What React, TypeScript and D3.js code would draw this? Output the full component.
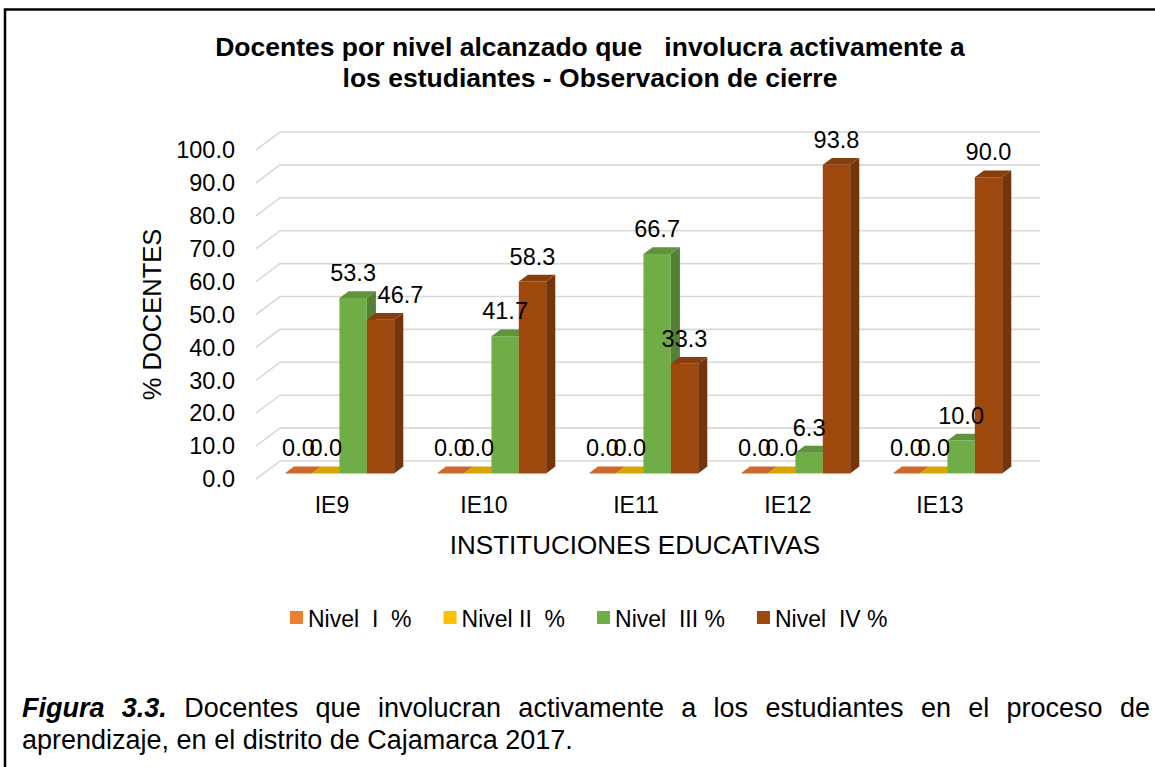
import React, { useEffect, useRef } from 'react';
import * as d3 from 'd3';

// chart data
const categories = ['IE9', 'IE10', 'IE11', 'IE12', 'IE13'];
const seriesNames = ['Nivel  I  %', 'Nivel II  %', 'Nivel  III %', 'Nivel  IV %'];
const nivelI = [0.0, 0.0, 0.0, 0.0, 0.0];
const nivelII = [0.0, 0.0, 0.0, 0.0, 0.0];
const nivelIII = [53.3, 41.7, 66.7, 6.3, 10.0];
const nivelIV = [46.7, 58.3, 33.3, 93.8, 90.0];
const yTicks = [0, 10, 20, 30, 40, 50, 60, 70, 80, 90, 100];
const seriesColors = ['#ED7D31', '#FFC000', '#70AD47', '#9E480E'];

const titleLines = [
    'Docentes por nivel alcanzado que   involucra activamente a',
    'los estudiantes - Observacion de cierre'
];
const yTitle = '% DOCENTES';
const xTitle = 'INSTITUCIONES EDUCATIVAS';
const captionLead = ['Figura', '3.3.'];
const captionLine1 = 'Docentes que involucran activamente a los estudiantes en el proceso de';
const captionLine2 = 'aprendizaje, en el distrito de Cajamarca 2017.';

const W = 1155;
const H = 767;
const FONT = "'Liberation Sans', Arial, sans-serif";

const drawChart = (svgEl: SVGSVGElement) => {
    const svg = d3.select(svgEl);
    svg.selectAll('*').remove();

    const series = [nivelI, nivelII, nivelIII, nivelIV];

    // front plane of the 3d box + depth vector
    const front = { left: 256, right: 1016, bottom: 479, top: 150 };
    const depth = { dx: 24, dy: -18 };
    const f0 = 0.31; // bar front face depth
    const f1 = 0.69; // bar back face depth

    const x0 = d3.scaleBand<string>()
        .domain(categories)
        .range([front.left, front.right])
        .paddingInner(0.28)
        .paddingOuter(0.14);
    const x1 = d3.scaleBand<number>()
        .domain(d3.range(series.length))
        .range([0, x0.bandwidth()]);
    const y = d3.scaleLinear().domain([0, 100]).range([front.bottom, front.top]);

    const P = (x: number, yy: number, f: number) => [x + f * depth.dx, yy + f * depth.dy];
    const poly = (pts: number[][]) => 'M' + pts.map(p => p.join(',')).join('L') + 'Z';

    // outer frame
    svg.append('rect')
        .attr('x', 5).attr('y', 9.5)
        .attr('width', 1200).attr('height', 800)
        .attr('fill', 'none')
        .attr('stroke', '#000')
        .attr('stroke-width', 2.5);

    // title
    svg.append('g')
        .attr('font-family', FONT)
        .attr('font-weight', 'bold')
        .attr('font-size', 26.5)
        .attr('text-anchor', 'middle')
        .selectAll('text')
        .data(titleLines)
        .join('text')
        .attr('xml:space', 'preserve')
        .attr('x', 590)
        .attr('y', (d, i) => 56 + i * 31)
        .text(d => d);

    // gridlines: short diagonal on the side wall, then along the back wall
    svg.append('g')
        .selectAll('path')
        .data(yTicks)
        .join('path')
        .attr('d', d => {
            const [bx, by] = P(front.left, y(d), 1);
            const [ex] = P(front.right, y(d), 1);
            return `M${front.left},${y(d)}L${bx},${by}H${ex}`;
        })
        .attr('fill', 'none')
        .attr('stroke', '#D9D9D9')
        .attr('stroke-width', 1.6);

    // y tick labels
    svg.append('g')
        .attr('font-family', FONT)
        .attr('font-size', 23.5)
        .attr('text-anchor', 'end')
        .selectAll('text')
        .data(yTicks)
        .join('text')
        .attr('x', front.left - 21)
        .attr('y', d => y(d))
        .attr('dy', '0.35em')
        .text(d => d.toFixed(1));

    // bars
    const bars = categories.flatMap((c, i) =>
        series.map((s, j) => ({ cat: c, j, value: s[i] }))
    );

    const barG = svg.append('g');
    bars.forEach(b => {
        const w = x1.bandwidth();
        const bx = (x0(b.cat) as number) + (x1(b.j) as number);
        const base = d3.color(seriesColors[b.j]) as d3.RGBColor;
        const yv = y(b.value);
        const y0 = y(0);
        const g = barG.append('g');

        if (b.value > 0) {
            g.append('path')
                .attr('d', poly([P(bx + w, yv, f0), P(bx + w, y0, f0), P(bx + w, y0, f1), P(bx + w, yv, f1)]))
                .attr('fill', base.darker(0.85).formatHex());
            g.append('path')
                .attr('d', poly([P(bx, yv, f0), P(bx + w, yv, f0), P(bx + w, y0, f0), P(bx, y0, f0)]))
                .attr('fill', base.formatHex());
        }
        g.append('path')
            .attr('d', poly([P(bx, yv, f0), P(bx + w, yv, f0), P(bx + w, yv, f1), P(bx, yv, f1)]))
            .attr('fill', base.darker(0.45).formatHex());
    });

    // data labels (Excel moved the IE9 Nivel IV label a bit to the right)
    const labelNudge = (b: { cat: string; j: number }) => (b.cat === 'IE9' && b.j === 3 ? 20 : 0);
    svg.append('g')
        .attr('font-family', FONT)
        .attr('font-size', 23.5)
        .attr('text-anchor', 'middle')
        .selectAll('text')
        .data(bars)
        .join('text')
        .attr('x', b => (x0(b.cat) as number) + (x1(b.j) as number) + x1.bandwidth() / 2 + f0 * depth.dx + labelNudge(b))
        .attr('y', b => y(b.value) + f0 * depth.dy - 17)
        .text(b => b.value.toFixed(1));

    // category labels
    svg.append('g')
        .attr('font-family', FONT)
        .attr('font-size', 23)
        .attr('text-anchor', 'middle')
        .selectAll('text')
        .data(categories)
        .join('text')
        .attr('x', d => (x0(d) as number) + x0.bandwidth() / 2)
        .attr('y', 513)
        .text(d => d);

    // axis titles
    svg.append('text')
        .attr('font-family', FONT)
        .attr('font-size', 26)
        .attr('text-anchor', 'middle')
        .attr('x', 635)
        .attr('y', 554)
        .text(xTitle);

    svg.append('text')
        .attr('font-family', FONT)
        .attr('font-size', 25.5)
        .attr('text-anchor', 'middle')
        .attr('transform', `translate(161,${(front.top + front.bottom) / 2}) rotate(-90)`)
        .text(yTitle);

    // legend
    const legend = svg.append('g')
        .attr('font-family', FONT)
        .attr('font-size', 23);
    let lx = 290;
    seriesNames.forEach((name, j) => {
        legend.append('rect')
            .attr('x', lx).attr('y', 611)
            .attr('width', 13).attr('height', 13)
            .attr('fill', seriesColors[j]);
        const t = legend.append('text')
            .attr('xml:space', 'preserve')
            .attr('x', lx + 18)
            .attr('y', 627)
            .text(name);
        const tw = (t.node() as SVGTextElement).getComputedTextLength();
        lx += 18 + tw + 32;
    });

    // caption, first line justified between the frame margins
    const cap = svg.append('g')
        .attr('font-family', FONT)
        .attr('font-size', 27);
    const capLeft = 22;
    const capRight = 1150;
    const words = [
        ...captionLead.map(t => ({ t, lead: true })),
        ...captionLine1.split(' ').map(t => ({ t, lead: false }))
    ];
    const nodes = words.map(wd => {
        const t = cap.append('text')
            .attr('y', 717)
            .attr('font-weight', wd.lead ? 'bold' : 'normal')
            .attr('font-style', wd.lead ? 'italic' : 'normal')
            .text(wd.t);
        return { t, w: (t.node() as SVGTextElement).getComputedTextLength() };
    });
    const total = d3.sum(nodes, n => n.w);
    const gap = (capRight - capLeft - total) / (nodes.length - 1);
    let cx = capLeft;
    nodes.forEach(n => {
        n.t.attr('x', cx);
        cx += n.w + gap;
    });
    cap.append('text')
        .attr('x', capLeft)
        .attr('y', 749)
        .text(captionLine2);
};

const App = () => {
    const ref = useRef<SVGSVGElement>(null);

    useEffect(() => {
        document.body.style.margin = '0';
        if (ref.current) drawChart(ref.current);
    }, []);

    return (
        <svg
            ref={ref}
            width={W}
            height={H}
            viewBox={`0 0 ${W} ${H}`}
            style={{ display: 'block', background: '#fff' }}
        />
    );
};

export default App;
